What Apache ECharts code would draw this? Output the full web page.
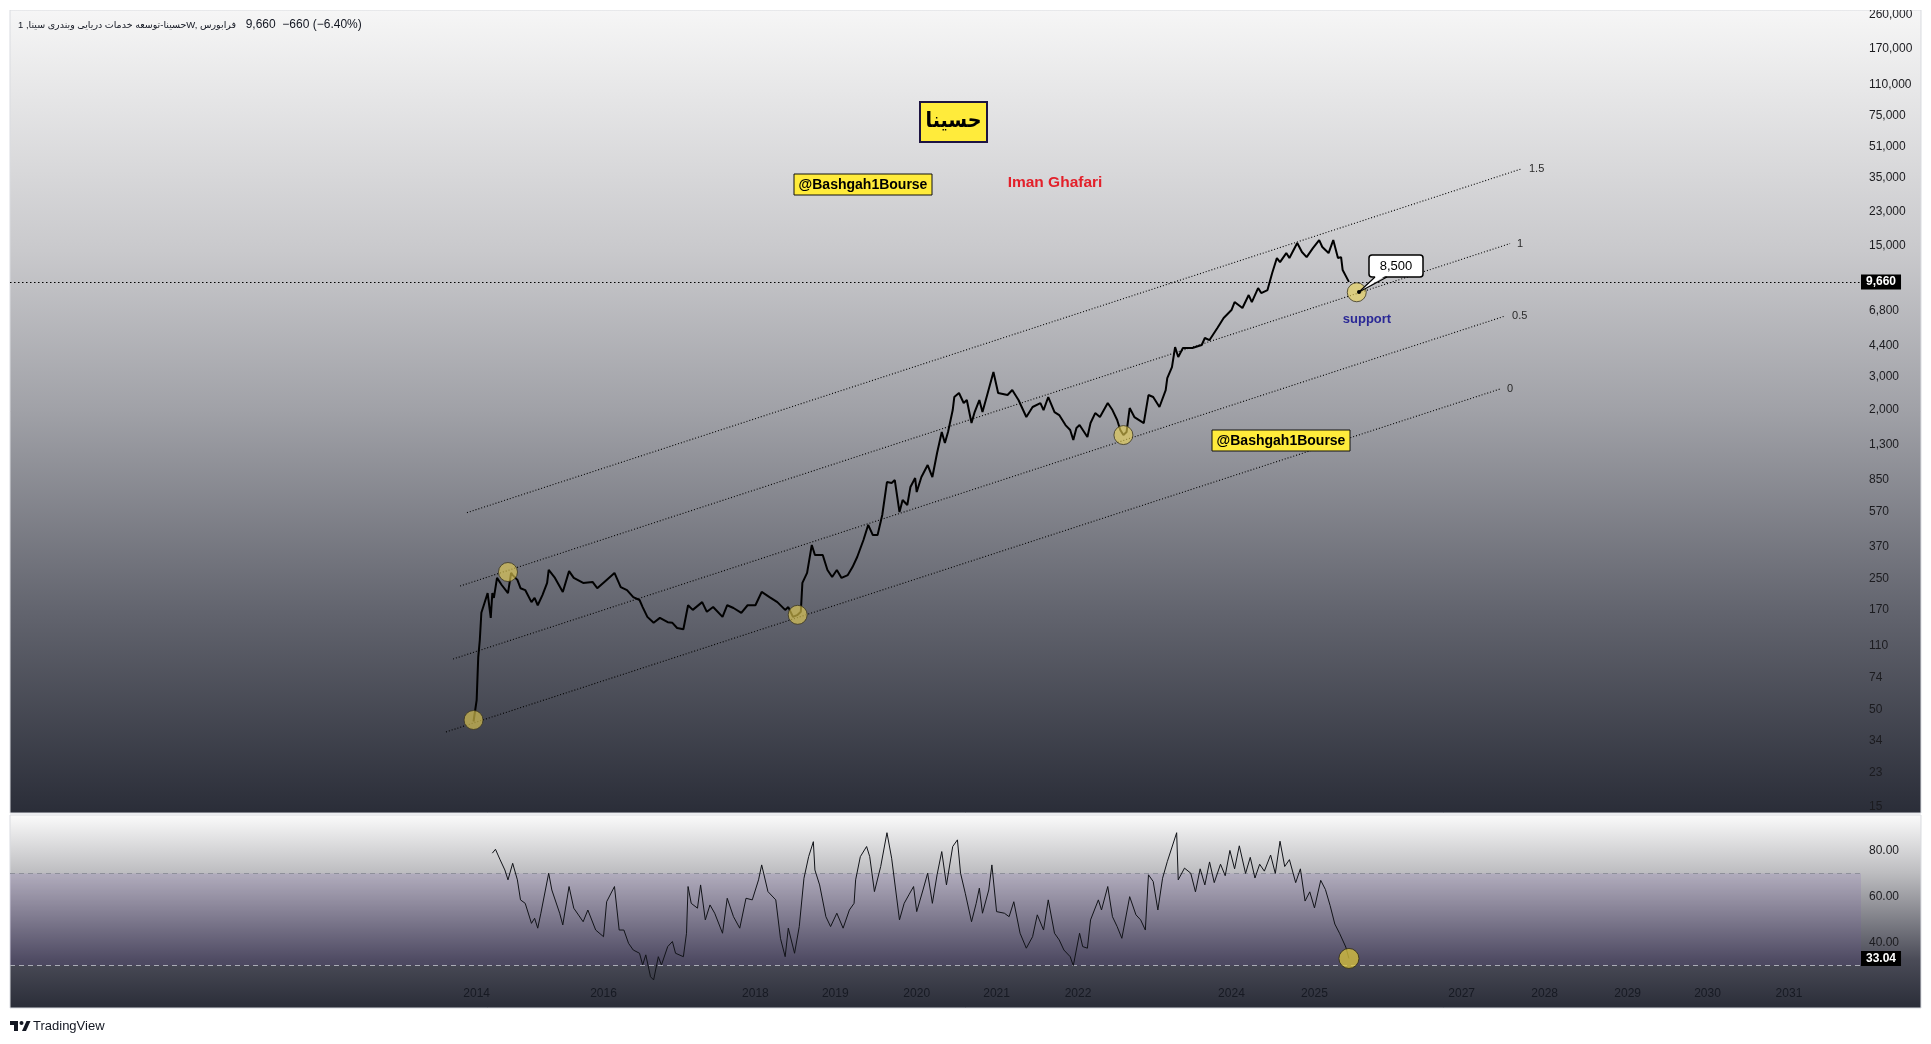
<!DOCTYPE html>
<html><head><meta charset="utf-8">
<script src="https://cdn.jsdelivr.net/npm/echarts@6/dist/echarts.min.js"></script>
<style>html,body{margin:0;padding:0;background:#fff;}#c{width:1931px;height:1044px;}</style>
</head><body><div id="c"></div>
<script>
// x axis = weekly bar index (TradingView style)
const yearBars = [298,379,476,527,579,630,682,780,833,927,980,1033,1084,1136];
const yearLabels = ['2014','2016','2018','2019','2020','2021','2022','2024','2025','2027','2028','2029','2030','2031'];
const priceTicks = [15,23,34,50,74,110,170,250,370,570,850,1300,2000,3000,4400,6800,15000,23000,35000,51000,75000,110000,170000,260000];
const rsiTicks = [40,60,80];

const pricePoints = [[296,43],[298,56],[299,95],[300,117],[301,164],[303,185],[305,209],[307,154],[308,209],[309,197],[311,252],[314,231],[318,209],[320,268],[321,261],[324,246],[326,222],[329,217],[333,187],[335,197],[337,180],[340,204],[343,237],[344,278],[348,252],[353,212],[357,274],[360,252],[366,237],[372,240],[375,222],[381,246],[386,268],[390,225],[394,217],[398,199],[402,192],[404,176],[407,156],[411,145],[415,154],[420,146],[423,145],[426,136],[430,134],[433,180],[436,170],[442,187],[445,166],[449,176],[455,156],[458,180],[462,174],[467,164],[471,180],[476,180],[480,212],[485,199],[490,187],[495,170],[497,176],[500,156],[503,160],[505,166],[506,237],[509,268],[512,378],[514,334],[519,334],[522,278],[525,255],[528,278],[531,252],[535,261],[538,288],[541,326],[545,402],[548,484],[551,427],[554,427],[557,547],[560,821],[563,811],[565,841],[568,567],[570,658],[573,619],[575,772],[578,862],[579,726],[582,873],[586,1012],[589,873],[592,1174],[595,1520],[597,1327],[599,1520],[602,1992],[603,2339],[606,2457],[609,2172],[611,2254],[614,1698],[616,1944],[619,2254],[621,1944],[624,2397],[628,3181],[631,2457],[637,2397],[640,2549],[644,2254],[649,1828],[653,2069],[658,2172],[660,1992],[663,2339],[667,1944],[670,1873],[674,1656],[677,1558],[679,1377],[681,1596],[683,1656],[688,1429],[690,1698],[693,1920],[696,1828],[701,2172],[704,1992],[707,1762],[709,1558],[711,1464],[713,1520],[715,2043],[718,1828],[724,1698],[727,2397],[730,2339],[734,2069],[738,2549],[739,2955],[742,3384],[744,4328],[746,3828],[749,4275],[755,4275],[761,4440],[763,4839],[766,4719],[771,5473],[775,6188],[780,6831],[782,7536],[787,6999],[791,8213],[793,7536],[797,8955],[799,8420],[803,8736],[806,10769],[809,12953],[811,12330],[815,13777],[817,12953],[822,15585],[825,13950],[828,13110],[832,14648],[836,16170],[838,14840],[842,13777],[845,16170],[848,12953],[850,13110],[851,11170],[855,9660]];

const rsiPoints = [[308,78.8],[310,80.5],[313,75.9],[316,71.5],[318,67.2],[321,74.4],[324,67.2],[326,58.5],[329,57.0],[333,48.3],[335,50.5],[337,46.2],[339,52.7],[344,70.1],[346,62.8],[351,52.7],[353,47.6],[357,64.3],[360,54.9],[366,49.0],[369,54.1],[374,45.4],[379,42.5],[381,57.7],[386,64.3],[389,45.4],[392,45.4],[395,39.6],[398,36.7],[402,35.3],[404,30.2],[406,34.6],[409,25.1],[411,23.7],[414,33.8],[416,30.2],[420,38.2],[423,40.4],[425,35.3],[430,33.8],[432,44.0],[433,64.3],[435,57.0],[439,54.9],[441,65.0],[444,49.8],[447,56.3],[450,52.7],[455,44.0],[458,59.2],[462,51.2],[466,46.2],[470,59.2],[474,58.5],[478,67.2],[480,73.7],[484,62.1],[489,58.5],[492,41.8],[495,33.8],[497,46.2],[501,35.3],[504,46.9],[507,67.9],[510,77.3],[513,83.8],[514,71.5],[517,65.0],[521,51.2],[524,46.9],[528,52.7],[532,46.2],[536,54.1],[539,57.0],[540,67.2],[543,77.3],[547,81.7],[549,77.3],[552,62.1],[556,73.0],[560,87.7],[563,76.6],[568,49.8],[571,57.0],[574,60.7],[577,64.3],[579,53.4],[583,62.8],[586,70.1],[589,57.0],[592,69.4],[595,79.5],[598,65.0],[602,81.7],[605,84.6],[607,70.1],[610,61.4],[614,49.0],[617,57.0],[619,63.6],[621,52.7],[625,62.8],[627,73.7],[630,53.4],[635,52.7],[638,51.2],[641,57.7],[645,44.0],[649,37.5],[653,42.5],[656,52.0],[660,45.4],[663,58.5],[667,44.0],[670,41.1],[673,36.7],[677,33.8],[679,29.9],[683,44.0],[685,38.2],[688,37.5],[690,49.8],[695,58.5],[697,54.1],[701,64.3],[704,51.2],[707,46.9],[710,41.8],[715,59.9],[719,52.0],[722,49.8],[725,45.4],[727,69.4],[730,66.5],[733,54.1],[736,67.9],[739,75.1],[745,87.7],[746,67.2],[750,72.3],[754,70.1],[757,62],[760,72],[763,65],[766,75],[769,66],[773,74],[776,69],[779,80],[782,72],[785,82],[789,70],[792,77],[795,68],[798,74],[801,71],[805,78],[808,70],[811,84],[814,73],[817,76],[821,66],[824,72],[827,58],[830,62],[833,55],[837,67],[840,63],[843,56],[846,48],[849,44],[853,38],[855,33.04]];

const channelLevels = ['0','0.5','1','1.5'];
const channelStart = [[278.4,37.8],[282.9,92.8],[287.4,228],[291.8,563]];
const channelEnd = [[951.5,2582],[954.7,6342],[957.9,15490],[965.5,38940]];

const touchPoints = [[296,43.8],[318,271],[503,160],[711,1464],[860,8500]];
const rsiTouch = [[855,33.04]];
const lastPrice = 9660;
const lastRsi = 33.04;

const headerName = 'حسینا-توسعه خدمات دریایی وبندری سینا, 1W, فرابورس';
const headerValues = '9,660  −660 (−6.40%)';
const titleText = 'حسینا';

const FONT = '"Liberation Sans", "DejaVu Sans", Arial, sans-serif';
const mctx = document.createElement('canvas').getContext('2d');
function measure(font, text){ mctx.font = font; return mctx.measureText(text).width; }
// fit header name to the width seen in the reference
let hSize = 12;
const hw12 = measure('12px ' + FONT, headerName);
if (hw12 > 218) hSize = 12 * 218 / hw12;
const hw = measure(hSize + 'px ' + FONT, headerName);
const TFONT = '"DejaVu Sans Condensed", "DejaVu Sans", sans-serif';
const tw = measure('bold 22px ' + TFONT, titleText);
const tSize = Math.min(24, 22 * 56 / tw);

const chart = echarts.init(document.getElementById('c'), null, {renderer:'canvas'});
const G = echarts.graphic;

const channelSeries = channelLevels.map((lv, i) => ({
  type:'line', xAxisIndex:0, yAxisIndex:0, symbol:'none', silent:true, z:3,
  data:[channelStart[i], channelEnd[i]],
  lineStyle:{color:'#000', width:1.1, type:[1,2]},
  endLabel:{show:true, formatter:()=>lv, distance:7, color:'#2a2a2a', fontSize:11, fontFamily:FONT},
  animation:false
}));

const option = {
  animation:false,
  grid:[
    {left:10, right:70, top:10, bottom:231},
    {left:10, right:70, top:815, bottom:36}
  ],
  xAxis:[
    {type:'value', gridIndex:0, min:0, max:1182, show:false},
    {type:'value', gridIndex:1, min:0, max:1182,
     axisLine:{show:false}, axisTick:{show:false}, splitLine:{show:false},
     axisLabel:{inside:true, margin:8, customValues:yearBars, color:'#171a23', fontSize:12, fontFamily:FONT,
       formatter:(v)=>{const k=yearBars.indexOf(Math.round(v)); return k>=0?yearLabels[k]:'';}}}
  ],
  yAxis:[
    {type:'log', gridIndex:0, position:'right', min:13.93, max:274980,
     axisLine:{show:false}, axisTick:{show:false}, splitLine:{show:false},
     axisLabel:{customValues:priceTicks, margin:8, color:'#1b1b1f', fontSize:12, fontFamily:FONT,
       formatter:(v)=>Math.round(v).toLocaleString('en-US')}},
    {type:'value', gridIndex:1, position:'right', min:11.5, max:95.4,
     axisLine:{show:false}, axisTick:{show:false}, splitLine:{show:false},
     axisLabel:{customValues:rsiTicks, margin:8, color:'#1b1b1f', fontSize:12, fontFamily:FONT,
       formatter:(v)=>Number(v).toFixed(2)}}
  ],
  series:[
    ...channelSeries,
    {type:'line', xAxisIndex:0, yAxisIndex:0, symbol:'none', z:5,
     data:pricePoints, lineStyle:{color:'#000', width:2},
     markLine:{silent:true, symbol:'none', animation:false,
       lineStyle:{color:'#000', width:1, type:[1.5,2.5]},
       label:{position:'end', distance:0, formatter:()=>lastPrice.toLocaleString('en-US'),
         backgroundColor:'#000', color:'#fff', fontWeight:'bold', fontSize:12, fontFamily:FONT, padding:[2,5,1,5]},
       data:[{yAxis:lastPrice}]}},
    {type:'scatter', xAxisIndex:0, yAxisIndex:0, z:6, symbolSize:19, data:touchPoints,
     itemStyle:{color:'rgba(238,214,84,0.75)', borderColor:'#3b3622', borderWidth:1}},
    {type:'line', xAxisIndex:1, yAxisIndex:1, symbol:'none', z:5,
     data:rsiPoints, lineStyle:{color:'#111318', width:1},
     markArea:{silent:true, itemStyle:{color:'rgba(110,80,180,0.14)'}, data:[[{yAxis:30},{yAxis:70}]]},
     markLine:{silent:true, symbol:'none', animation:false,
       data:[
         {yAxis:70, lineStyle:{color:'#8e909a', width:1, type:[5,4]}, label:{show:false}},
         {yAxis:30, lineStyle:{color:'#a9abb5', width:1, type:[5,4]}, label:{show:false}},
         {yAxis:lastRsi, lineStyle:{color:'rgba(0,0,0,0)', width:0}, label:{show:true, position:'end', distance:0,
           formatter:()=>lastRsi.toFixed(2), backgroundColor:'#000', color:'#fff', fontWeight:'bold',
           fontSize:12, fontFamily:FONT, padding:[2,5,1,5]}}
       ]}},
    {type:'scatter', xAxisIndex:1, yAxisIndex:1, z:6, symbolSize:20, data:rsiTouch,
     itemStyle:{color:'rgba(222,200,60,0.92)', borderColor:'#2f2a14', borderWidth:1}}
  ],
  graphic:[
    {type:'rect', z:-10, silent:true, shape:{x:10,y:10,width:1911,height:803},
     style:{stroke:'#d9dbe0', lineWidth:1, fill:new G.LinearGradient(0,0,0,1,[
       {offset:0,color:'#f6f6f6'},{offset:0.3,color:'#c9c9cc'},{offset:0.5,color:'#a0a1a7'},
       {offset:0.75,color:'#62646e'},{offset:1,color:'#2a2d38'}])}},
    {type:'rect', z:-10, silent:true, shape:{x:10,y:815,width:1911,height:193},
     style:{stroke:'#d9dbe0', lineWidth:1, fill:new G.LinearGradient(0,0,0,1,[
       {offset:0,color:'#fbfbfb'},{offset:0.3,color:'#bdbdc0'},{offset:0.75,color:'#4a4b57'},{offset:1,color:'#2a2d38'}])}},
    {type:'rect', z:100, silent:true, shape:{x:0,y:0,width:1931,height:10}, style:{fill:'#fff'}},
    // header
    {type:'text', z:100, style:{x:18, y:25, text:headerName,
      font:hSize.toFixed(2)+'px '+FONT, fill:'#131722', verticalAlign:'middle'}},
    {type:'text', z:100, style:{x:18 + hw + 10, y:25, text:headerValues,
      font:'12px '+FONT, fill:'#131722', verticalAlign:'middle'}},
    // title box
    {type:'rect', z:100, shape:{x:920,y:102,width:67,height:40}, style:{fill:'#ffeb3b', stroke:'#1d1442', lineWidth:2}},
    {type:'text', z:101, style:{x:953.5, y:121, text:titleText, font:'bold '+tSize.toFixed(1)+'px '+TFONT,
      fill:'#000', align:'center', verticalAlign:'middle'}},
    // watermark labels
    {type:'rect', z:100, shape:{x:794,y:174,width:138,height:21}, style:{fill:'#ffeb3b', stroke:'#111', lineWidth:1}},
    {type:'text', z:101, style:{x:863, y:185, text:'@Bashgah1Bourse', font:'bold 14px '+FONT,
      fill:'#000', align:'center', verticalAlign:'middle'}},
    {type:'text', z:101, style:{x:1055, y:183, text:'Iman Ghafari', font:'bold 15.5px '+FONT,
      fill:'#e3202a', align:'center', verticalAlign:'middle'}},
    {type:'rect', z:100, shape:{x:1212,y:430,width:138,height:21}, style:{fill:'#ffeb3b', stroke:'#111', lineWidth:1}},
    {type:'text', z:101, style:{x:1281, y:441, text:'@Bashgah1Bourse', font:'bold 14px '+FONT,
      fill:'#000', align:'center', verticalAlign:'middle'}},
    // callout 8,500
    {type:'rect', z:100, shape:{x:1369,y:255,width:54,height:22,r:3}, style:{fill:'#fff', stroke:'#000', lineWidth:1.5}},
    {type:'polygon', z:101, shape:{points:[[1359,292],[1376,275.5],[1386,275.5]]}, style:{fill:'#fff'}},
    {type:'polyline', z:102, shape:{points:[[1359,292],[1375,277]]}, style:{stroke:'#000', lineWidth:1.2}},
    {type:'polyline', z:102, shape:{points:[[1359,292],[1387,277]]}, style:{stroke:'#000', lineWidth:1.2}},
    {type:'circle', z:103, shape:{cx:1359,cy:292,r:2}, style:{fill:'#000'}},
    {type:'text', z:103, style:{x:1396, y:266, text:'8,500', font:'13px '+FONT, fill:'#000', align:'center', verticalAlign:'middle'}},
    {type:'text', z:101, style:{x:1367, y:319, text:'support', font:'bold 13px '+FONT, fill:'#2a2896', align:'center', verticalAlign:'middle'}},
    // footer logo
    {type:'rect', z:100, shape:{x:10,y:1021,width:8,height:4}, style:{fill:'#131722'}},
    {type:'rect', z:100, shape:{x:14,y:1021,width:4,height:10}, style:{fill:'#131722'}},
    {type:'circle', z:100, shape:{cx:21.5,cy:1023,r:2}, style:{fill:'#131722'}},
    {type:'polygon', z:100, shape:{points:[[22,1031],[26.5,1021],[30.5,1021],[26,1031]]}, style:{fill:'#131722'}},
    {type:'text', z:100, style:{x:33, y:1026, text:'TradingView', font:'13px '+FONT, fill:'#131722', verticalAlign:'middle'}}
  ]
};
chart.setOption(option);
</script></body></html>
